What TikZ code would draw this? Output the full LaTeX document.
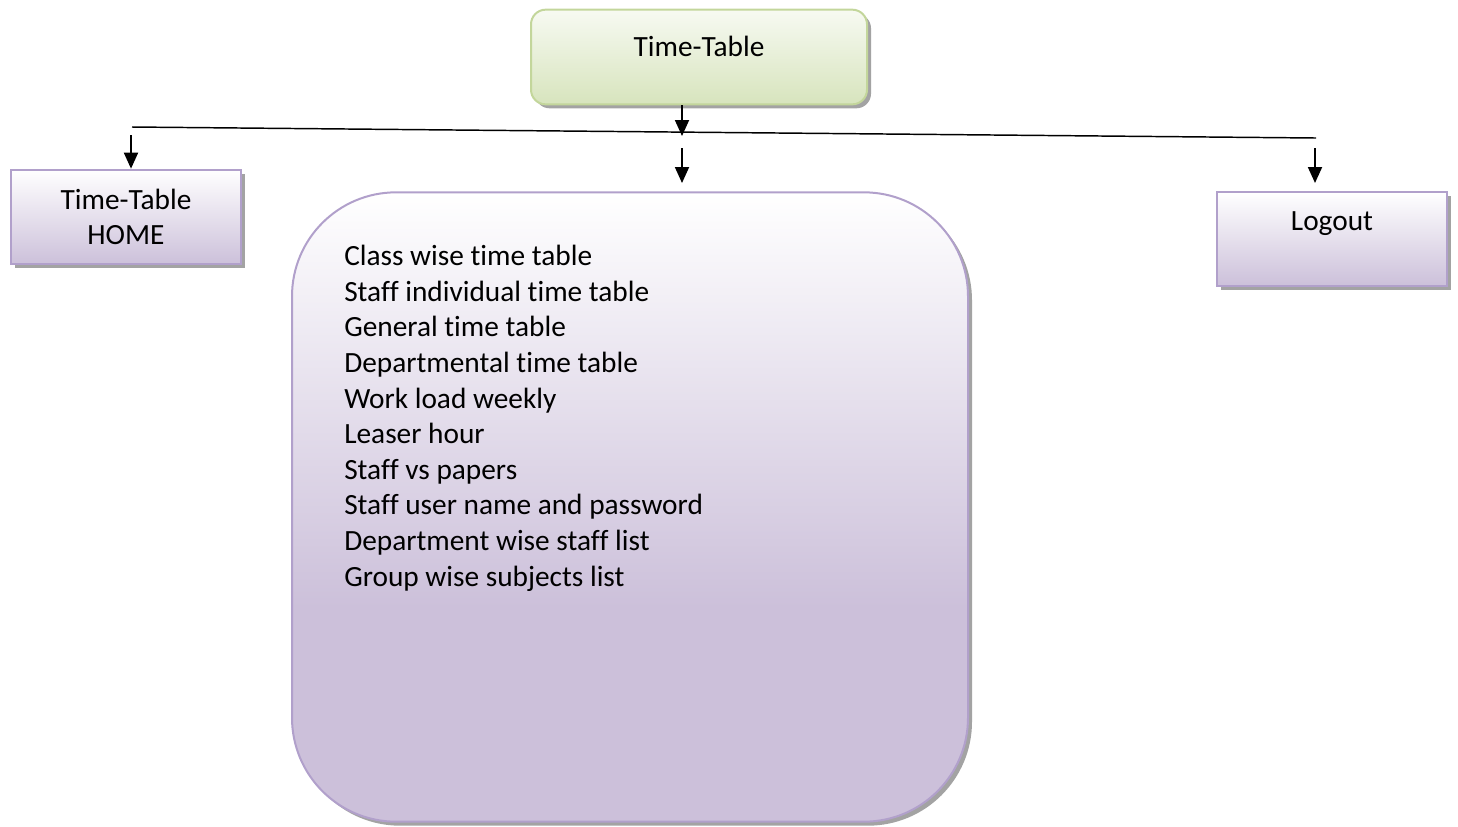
\documentclass[tikz,border=0pt]{standalone}
\usepackage{fontspec}
\setmainfont{Carlito}[Ligatures=NoCommon]
\usetikzlibrary{arrows.meta, shadows}

\definecolor{lav}{HTML}{CCC0DA}
\definecolor{lavline}{HTML}{B1A0CB}
\definecolor{grn}{HTML}{D7E4BD}
\definecolor{grnline}{HTML}{C3D69B}
\definecolor{shadowgray}{HTML}{A3A3A3}

\pgfdeclareverticalshading{lavfade}{100bp}{color(0bp)=(lav); color(25bp)=(lav); color(42bp)=(lav); color(75bp)=(white); color(100bp)=(white)}

\begin{document}
\begin{tikzpicture}[
    x=0.75pt, y=-0.75pt,
    font=\fontsize{22pt}{26.7pt}\selectfont,
    shadowed/.style={drop shadow={shadow xshift=3pt, shadow yshift=-3pt, fill=shadowgray, opacity=1}},
    topbox/.style={rectangle, rounded corners=11pt, draw=grnline, line width=1.5pt, top color=white!80!grn, bottom color=grn, shadowed, minimum width=252pt, minimum height=71pt},
    pagebox/.style={rectangle, draw=lavline, line width=1.5pt, top color=white, bottom color=lav, shadowed, minimum width=172pt, minimum height=71pt, align=center},
    listbox/.style={rectangle, rounded corners=78pt, draw=lavline, line width=1.5pt, shading=lavfade, shadowed, minimum width=507pt, minimum height=472pt},
    arrow/.style={-{Triangle[length=12pt, width=10.5pt]}, line width=1.4pt}
]
\useasboundingbox (0,0) rectangle (1458,826);

\node[topbox] (main) at (699,57) {};
\node at (699,46) {Time-Table};

\node[pagebox] (home) at (126,217) {Time-Table\\HOME};
\node[pagebox, minimum height=70pt] (logout) at (1332,239) {};
\node at (1332,224) {Logout};

\node[listbox] (menu) at (630,507) {};
\node[anchor=north west, align=left, inner sep=0pt] (items) at (344,245) {%
Class wise time table\\
Staff individual time table\\
General time table\\
Departmental time table\\
Work load weekly\\
Leaser hour\\
Staff vs papers\\
Staff user name and password\\
Department wise staff list\\
Group wise subjects list};

% branch line
\coordinate (hl) at (132,127);
\coordinate (hr) at (1316,138);
\coordinate (jmid) at (682,136);
\coordinate (aleft) at (131,135);
\coordinate (amid) at (682,148);
\coordinate (amidend) at (682,183);
\coordinate (aright) at (1315,148);
\coordinate (arightend) at (1315,183);

\draw[line width=1.1pt] (hl) -- (hr);
\draw[arrow] (main.south -| jmid) -- (jmid);
\draw[arrow] (aleft) -- (home.north -| aleft);
\draw[arrow] (amid) -- (amidend);
\draw[arrow] (aright) -- (arightend);

\end{tikzpicture}
\end{document}
